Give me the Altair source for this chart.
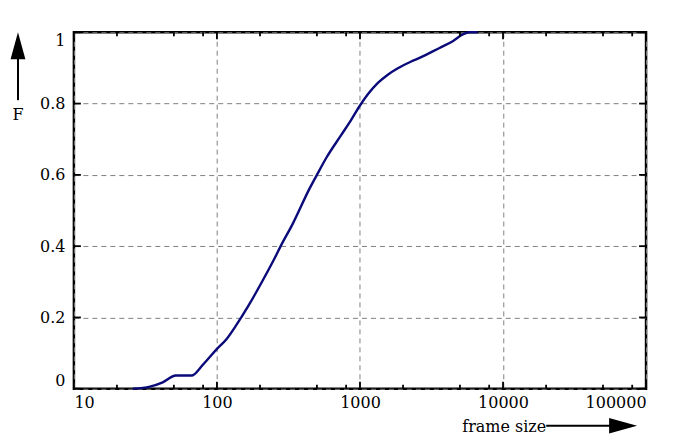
import altair as alt
import pandas as pd

# curve data (frame size, cumulative fraction F)
frame_size = [25.8, 34, 41.8, 51.5, 66.4, 79.6, 99.7, 116.5, 136.8, 164.9, 209.8,
              253, 279, 340, 444.7, 500, 582, 740, 870, 1005, 1135, 1334, 1566,
              1840, 2281, 2608, 3596, 4453, 5233, 5824, 6650]
F_vals = [0, 0.006, 0.018, 0.037, 0.037, 0.067, 0.111, 0.139, 0.179, 0.231, 0.305,
          0.366, 0.400, 0.464, 0.562, 0.600, 0.648, 0.712, 0.755, 0.796, 0.826, 0.858, 0.881,
          0.899, 0.918, 0.928, 0.956, 0.975, 0.994, 1.0, 1.0]

x_major = [10, 100, 1000, 10000, 100000]
x_minor = [20, 50, 80, 200, 500, 800, 2000, 5000, 8000, 20000, 50000, 80000]
y_ticks = [0, 0.2, 0.4, 0.6, 0.8, 1]

W, H = 573, 357
FONT = "DejaVu Serif, Liberation Serif, serif"
FS = 16

curve = pd.DataFrame({"x": frame_size, "y": F_vals})
dfxM = pd.DataFrame({"x": x_major})
dfxm = pd.DataFrame({"x": x_minor})
dfy = pd.DataFrame({"y": y_ticks})
one = pd.DataFrame({"a": [0]})

xscale = alt.Scale(type="log", domain=[10, 100000], nice=False)
yscale = alt.Scale(domain=[0, 1], nice=False, zero=False)
xaxis = alt.Axis(values=x_major, format="d", labelFlush=True, labelPadding=6,
                 grid=True, title=None)
yaxis = alt.Axis(values=y_ticks, format="~g", labelFlush=True, labelPadding=9,
                 grid=True, title=None)
xenc = alt.X("x:Q", scale=xscale, axis=xaxis)
yenc = alt.Y("y:Q", scale=yscale, axis=yaxis)

line = alt.Chart(curve).mark_line(color="#0a0a7a", strokeWidth=2.4,
                                  interpolate="monotone").encode(x=xenc, y=yenc)

tick_style = dict(color="black", strokeWidth=1.8)
xM_bot = alt.Chart(dfxM).mark_rule(**tick_style).encode(x=xenc, y=alt.value(H), y2=alt.value(H - 7))
xM_top = alt.Chart(dfxM).mark_rule(**tick_style).encode(x=xenc, y=alt.value(0), y2=alt.value(7))
xm_bot = alt.Chart(dfxm).mark_rule(**tick_style).encode(x=xenc, y=alt.value(H), y2=alt.value(H - 4))
xm_top = alt.Chart(dfxm).mark_rule(**tick_style).encode(x=xenc, y=alt.value(0), y2=alt.value(4))
y_left = alt.Chart(dfy).mark_rule(**tick_style).encode(y=yenc, x=alt.value(0), x2=alt.value(7))
y_right = alt.Chart(dfy).mark_rule(**tick_style).encode(y=yenc, x=alt.value(W), x2=alt.value(W - 7))

# axis arrows and labels
up_tri = "M0,-1L-0.55,1L0.55,1Z"
right_tri = "M1,0L-1,-0.55L-1,0.55Z"
yarrow_line = alt.Chart(one).mark_rule(color="black", strokeWidth=2).encode(
    x=alt.value(-56), y=alt.value(20), y2=alt.value(68))
yarrow_head = alt.Chart(one).mark_point(shape=up_tri, size=729, filled=True, opacity=1,
                                        color="black", strokeWidth=0).encode(
    x=alt.value(-56), y=alt.value(13.5))
ylabel = alt.Chart(one).mark_text(text="F", font=FONT, fontSize=FS, color="black",
                                  align="center", baseline="middle").encode(
    x=alt.value(-56), y=alt.value(83))

xarrow_line = alt.Chart(one).mark_rule(color="black", strokeWidth=2).encode(
    x=alt.value(473), x2=alt.value(540), y=alt.value(394))
xarrow_head = alt.Chart(one).mark_point(shape=right_tri, size=784, filled=True, opacity=1,
                                        color="black", strokeWidth=0).encode(
    x=alt.value(550), y=alt.value(394))
xlabel = alt.Chart(one).mark_text(text="frame size", font=FONT, fontSize=FS, color="black",
                                  align="right", baseline="alphabetic").encode(
    x=alt.value(473), y=alt.value(400))

chart = alt.layer(
    line, xM_bot, xM_top, xm_bot, xm_top, y_left, y_right,
    yarrow_line, yarrow_head, ylabel, xarrow_line, xarrow_head, xlabel
).properties(
    width=W, height=H,
    padding={"left": 66, "top": 24, "right": 40, "bottom": 48},
    autosize=alt.AutoSizeParams(type="none"),
).configure_view(
    stroke="black", strokeWidth=2.5
).configure_axis(
    labelFont=FONT, labelFontSize=FS, labelColor="black",
    gridColor="#808080", gridDash=[5, 4], gridWidth=1,
    ticks=False, tickSize=0, domain=False,
)

chart.save("out.html", embed_options={"renderer": "svg", "actions": False})
